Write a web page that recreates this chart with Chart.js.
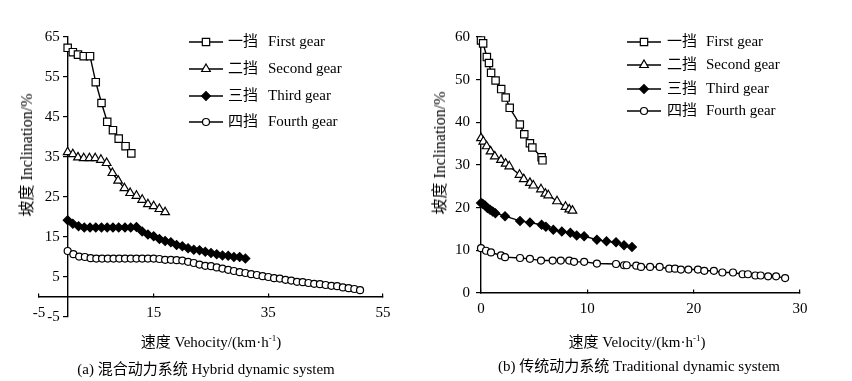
<!DOCTYPE html>
<html>
<head>
<meta charset="utf-8">
<script src="https://cdn.jsdelivr.net/npm/chart.js@4.4.1/dist/chart.umd.min.js"></script>
<style>
  body { margin: 0; background: #fff; }
  #wrap { position: relative; width: 852px; height: 381px; font-family: 'Liberation Serif', 'Times New Roman', 'Noto Sans CJK SC', serif; color: #000; }
  .pane { position: absolute; top: 0; height: 381px; }
  .txt { position: absolute; white-space: nowrap; font-size: 15px; transform: translate(-50%, -50%); }
  .rot { font-size: 16px; transform: translate(-50%, -50%) rotate(-90deg); }
  sup { font-size: 9px; vertical-align: 6px; line-height: 0; }
</style>
</head>
<body>
<div id="wrap">
  <div class="pane" style="left:0;width:420px"><canvas id="chart-hybrid"></canvas></div>
  <div class="pane" style="left:420px;width:432px"><canvas id="chart-trad"></canvas></div>

  <div class="txt rot" style="left:25px;top:155px">坡度 Inclination/%</div>
  <div class="txt" style="left:211px;top:340px">速度 Vehocity/(km·h<sup>-1</sup>)</div>
  <div class="txt" style="left:206px;top:367px">(a) 混合动力系统 Hybrid dynamic system</div>

  <div class="txt rot" style="left:438px;top:153px">坡度 Inclination/%</div>
  <div class="txt" style="left:637px;top:340px">速度 Velocity/(km·h<sup>-1</sup>)</div>
  <div class="txt" style="left:639px;top:364px">(b) 传统动力系统 Traditional dynamic system</div>
</div>
<script>
// legend names, shared by both panels
const gearNamesZh = ['一挡', '二挡', '三挡', '四挡'];
const gearNamesEn = ['First gear', 'Second gear', 'Third gear', 'Fourth gear'];

// (a) hybrid system
const hybTicksX = [-5, 15, 35, 55];
const hybTicksY = [-5, 5, 15, 25, 35, 45, 55, 65];

const hyb1Speed = [0, 0.9, 1.8, 2.8, 3.9, 4.9, 5.9, 6.9, 7.9, 8.9, 10.1, 11.1];
const hyb1Grade = [62.3, 61.2, 60.6, 60.2, 60.2, 53.7, 48.5, 43.8, 41.7, 39.6, 37.7, 35.9];

const hyb2Speed = [0, 0.9, 1.8, 2.8, 3.8, 4.8, 5.8, 6.8, 7.8, 8.8, 9.9, 10.9, 12, 13, 14, 15, 16, 17];
const hyb2Grade = [36.2, 35.7, 34.9, 34.7, 34.7, 34.7, 34.3, 33.5, 31.0, 29.1, 27.2, 26.0, 25.3, 24.3, 23.2, 22.7, 22.0, 21.2];

const hyb3Speed = [0, 0.9, 1.9, 2.9, 3.9, 4.9, 5.9, 6.9, 7.9, 8.9, 10, 11, 12, 13, 14, 15, 16, 17, 18, 19, 20, 21, 22, 23, 24, 25, 26, 27, 28, 29, 30, 31];
const hyb3Grade = [19.2, 18.3, 17.7, 17.4, 17.4, 17.4, 17.4, 17.4, 17.4, 17.4, 17.4, 17.4, 17.5, 16.4, 15.6, 15.2, 14.5, 14.0, 13.7, 13.0, 12.7, 12.2, 11.8, 11.7, 11.3, 11.0, 10.7, 10.4, 10.3, 10.0, 10.0, 9.6];

const hyb4Speed = [0, 1, 2, 3, 4, 5, 6, 7, 8, 9, 10, 11, 12, 13, 14, 15, 16, 17, 18, 19, 20, 21, 22, 23, 24, 25,
  26, 27, 28, 29, 30, 31, 32, 33, 34, 35, 36, 37, 38, 39, 40, 41, 42, 43, 44, 45, 46, 47, 48, 49, 50, 51];
const hyb4Grade = [11.5, 10.7, 10.1, 10.0, 9.7, 9.6, 9.6, 9.6, 9.6, 9.6, 9.6, 9.6, 9.6, 9.6, 9.6, 9.6, 9.5, 9.3, 9.3, 9.2, 9.1, 8.8, 8.5, 8.1, 7.8, 7.7,
  7.4, 7.1, 6.8, 6.5, 6.2, 6.0, 5.7, 5.5, 5.2, 5.0, 4.7, 4.6, 4.3, 4.1, 3.8, 3.7, 3.5, 3.3, 3.2, 3.0, 2.8, 2.7, 2.4, 2.2, 2.0, 1.7];

// (b) traditional system
const tradTicksX = [0, 10, 20, 30];
const tradTicksY = [0, 10, 20, 30, 40, 50, 60];

const trad1Speed = [0, 0.2, 0.55, 0.75, 0.95, 1.37, 1.9, 2.32, 2.7, 3.65, 4.07, 4.6, 4.83, 5.7, 5.78];
const trad1Grade = [59.2, 58.5, 55.3, 53.9, 51.6, 49.8, 47.8, 45.8, 43.4, 39.5, 37.2, 35.1, 34.1, 31.8, 31.1];

const trad2Speed = [0, 0.22, 0.53, 0.9, 1.3, 1.88, 2.32, 2.66, 3.62, 4.02, 4.6, 4.92, 5.64, 6.05, 6.33, 7.15, 7.95, 8.3, 8.6];
const trad2Grade = [36.3, 35.5, 34.4, 33.2, 32.0, 31.2, 30.3, 29.7, 27.7, 26.7, 25.8, 25.2, 24.3, 23.3, 22.9, 21.5, 20.2, 19.6, 19.3];

const trad3Speed = [0, 0.16, 0.38, 0.6, 0.85, 1.1, 1.35, 2.26, 3.67, 4.6, 5.7, 6.1, 6.8, 7.6, 8.4, 9.0, 9.7, 10.9, 11.8, 12.7, 13.45, 14.2];
const trad3Grade = [21.1, 20.9, 20.5, 19.9, 19.5, 19.1, 18.7, 18.0, 16.9, 16.5, 16.0, 15.5, 14.8, 14.4, 14.1, 13.5, 13.3, 12.5, 12.1, 11.9, 11.2, 10.8];

const trad4Speed = [0, 0.47, 0.94, 1.88, 2.26, 3.67, 4.6, 5.64, 6.74, 7.5, 8.3, 8.75, 9.7, 10.9, 12.7, 13.45, 13.7, 14.6, 15.05, 15.9,
  16.8, 17.7, 18.25, 18.8, 19.5, 20.4, 21.0, 21.9, 22.7, 23.7, 24.6, 25.1, 25.8, 26.3, 27.0, 27.75, 28.6];
const trad4Grade = [10.5, 9.9, 9.5, 8.8, 8.4, 8.2, 8.0, 7.6, 7.6, 7.6, 7.6, 7.3, 7.3, 6.9, 6.8, 6.5, 6.5, 6.4, 6.1, 6.1,
  6.1, 5.7, 5.7, 5.5, 5.5, 5.5, 5.2, 5.2, 4.8, 4.8, 4.4, 4.4, 4.1, 4.1, 3.9, 3.9, 3.5];

const FONT = "'Liberation Serif', 'Times New Roman', 'Noto Sans CJK SC', serif";

// one marker style per gear, like the paper's figure
const GEAR_STYLES = [
    { pointStyle: 'rect', pointRadius: 5.2, pointBackgroundColor: '#fff' },
    { pointStyle: 'triangle', pointRadius: 5, pointBackgroundColor: '#fff' },
    { pointStyle: 'rectRot', pointRadius: 4.4, pointBackgroundColor: '#000' },
    { pointStyle: 'circle', pointRadius: 3.5, pointBackgroundColor: '#fff' },
];

const zip = (xs, ys) => xs.map((x, i) => ({ x, y: ys[i] }));

function gearDatasets(series) {
    return series.map(([xs, ys], i) => ({
        label: gearNamesEn[i],
        data: zip(xs, ys),
        borderColor: '#000',
        borderWidth: 1.4,
        pointBorderColor: '#000',
        pointBorderWidth: 1.2,
        pointHoverRadius: GEAR_STYLES[i].pointRadius,
        tension: 0,
        clip: false,
        ...GEAR_STYLES[i],
    }));
}

// legend: short line with the marker in its middle, then zh + en text
const gearLegend = {
    id: 'gearLegend',
    afterDraw(chart, args, opts) {
        const ctx = chart.ctx;
        ctx.save();
        chart.data.datasets.forEach((ds, i) => {
            const y = opts.rows[i];
            ctx.strokeStyle = '#000';
            ctx.lineWidth = 1.4;
            ctx.beginPath();
            ctx.moveTo(opts.left, y);
            ctx.lineTo(opts.left + opts.lineLen, y);
            ctx.stroke();
            ctx.fillStyle = ds.pointBackgroundColor;
            ctx.strokeStyle = '#000';
            ctx.lineWidth = 1.2;
            Chart.helpers.drawPoint(ctx, { pointStyle: ds.pointStyle, radius: ds.pointRadius, borderWidth: 1.2, rotation: 0 },
                opts.left + opts.lineLen / 2, y);
            ctx.fillStyle = '#000';
            ctx.font = '15px ' + FONT;
            ctx.textBaseline = 'middle';
            ctx.textAlign = 'left';
            ctx.fillText(gearNamesZh[i], opts.zhX, y);
            ctx.fillText(gearNamesEn[i], opts.enX, y);
        });
        ctx.restore();
    },
};

// y labels for an axis sitting at x = 0 (Chart.js puts them flush on the line)
const yTickText = {
    id: 'yTickText',
    afterDraw(chart, args, opts) {
        const ctx = chart.ctx;
        const ys = chart.scales.y;
        const x = chart.scales.x.getPixelForValue(0) - opts.gap;
        ctx.save();
        ctx.fillStyle = '#000';
        ctx.font = '15px ' + FONT;
        ctx.textAlign = 'right';
        ctx.textBaseline = 'middle';
        ys.ticks.forEach(t => ctx.fillText(String(t.value), x, ys.getPixelForValue(t.value)));
        ctx.restore();
    },
};

function makeChart(id, series, ax, padding, legendOpts, yGap) {
    const ctx = document.getElementById(id).getContext('2d');
    return new Chart(ctx, {
        type: 'line',
        data: { datasets: gearDatasets(series) },
        options: {
            responsive: true,
            maintainAspectRatio: false,
            animation: false,
            events: [],
            layout: { padding },
            scales: {
                x: {
                    type: 'linear',
                    min: ax.xTicks[0],
                    max: ax.xTicks[ax.xTicks.length - 1],
                    position: { y: 0 },
                    afterBuildTicks: s => { s.ticks = ax.xTicks.map(v => ({ value: v })); },
                    grid: { drawOnChartArea: false, tickLength: -4, color: '#000', lineWidth: 1.2 },
                    border: { color: '#000', width: 1.4 },
                    ticks: { padding: 11, color: '#000', font: { family: FONT, size: 15 }, maxRotation: 0, autoSkip: false },
                },
                y: {
                    type: 'linear',
                    min: ax.yTicks[0],
                    max: ax.yTicks[ax.yTicks.length - 1],
                    position: { x: 0 },
                    afterBuildTicks: s => { s.ticks = ax.yTicks.map(v => ({ value: v })); },
                    grid: { drawOnChartArea: false, tickLength: 4, color: '#000', lineWidth: 1.2 },
                    border: { color: '#000', width: 1.4 },
                    ticks: { display: false },
                },
            },
            plugins: {
                legend: { display: false },
                tooltip: { enabled: false },
                gearLegend: legendOpts,
                yTickText: { gap: yGap },
            },
        },
        plugins: [gearLegend, yTickText],
    });
}

makeChart('chart-hybrid',
    [[hyb1Speed, hyb1Grade], [hyb2Speed, hyb2Grade], [hyb3Speed, hyb3Grade], [hyb4Speed, hyb4Grade]],
    { xTicks: hybTicksX, yTicks: hybTicksY },
    { left: 39, right: 37, top: 37, bottom: 64 },
    { left: 189, lineLen: 34, zhX: 228, enX: 268, rows: [42, 69, 96, 122] },
    8);

makeChart('chart-trad',
    [[trad1Speed, trad1Grade], [trad2Speed, trad2Grade], [trad3Speed, trad3Grade], [trad4Speed, trad4Grade]],
    { xTicks: tradTicksX, yTicks: tradTicksY },
    { left: 61, right: 52, top: 37, bottom: 88 },
    { left: 207, lineLen: 34, zhX: 247, enX: 286, rows: [42, 65, 89, 111] },
    11);
</script>
</body>
</html>
